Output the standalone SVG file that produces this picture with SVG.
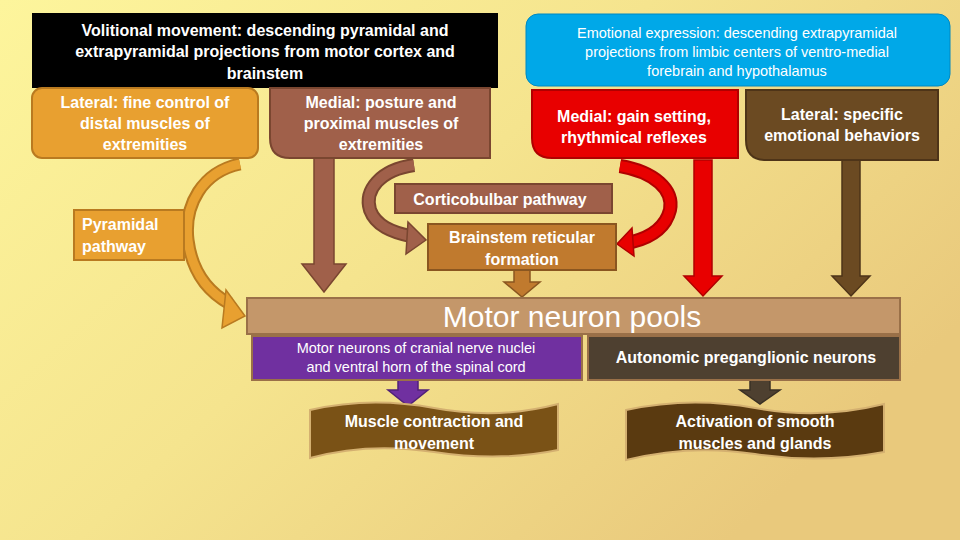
<svg xmlns="http://www.w3.org/2000/svg" width="960" height="540" viewBox="0 0 960 540">
<defs>
<linearGradient id="bg" x1="0" y1="0" x2="1" y2="0.6">
<stop offset="0" stop-color="#fdf59c"/><stop offset="0.5" stop-color="#f5e48e"/><stop offset="1" stop-color="#e9c97c"/>
</linearGradient>
</defs>
<style>
text{font-family:"Liberation Sans",Arial,sans-serif;fill:#fff;font-weight:bold;text-anchor:middle}
text.n{font-weight:normal}
</style>
<rect width="960" height="540" fill="url(#bg)"/>
<g id="connectors">
<polygon points="314,158 334,158 334,264 346,264 324,292 302,264 314,264" fill="#a0604a" stroke="#7a4630" stroke-width="1.5"/>
<polygon points="514,270 530,270 530,282 540,282 522,297 504,282 514,282" fill="#c07a2e" stroke="#8a5620" stroke-width="1.5"/>
<polygon points="694,160 712,160 712,276 722,276 703,296 684,276 694,276" fill="#e80000" stroke="#b00000" stroke-width="1.5"/>
<polygon points="842,160 860,160 860,276 870,276 851,296 832,276 842,276" fill="#6b4a22" stroke="#4e3418" stroke-width="1.5"/>
<polygon points="398,380 418,380 418,390 428,390 408,406 388,390 398,390" fill="#7030a0" stroke="#502078" stroke-width="1.5"/>
<polygon points="750,380 770,380 770,390 780,390 760,404 740,390 750,390" fill="#4e4030" stroke="#3a3024" stroke-width="1.5"/>
<path d="M240,164 C202,172 184,205 188,240 C192,272 208,292 230,304" fill="none" stroke="#b97a20" stroke-width="13"/>
<path d="M240,164 C202,172 184,205 188,240 C192,272 208,292 230,304" fill="none" stroke="#e8a030" stroke-width="9"/>
<polygon points="226,290 245,316 222,328" fill="#e8a030" stroke="#b97a20" stroke-width="1.5"/>
<path d="M414,165 C380,170 364,190 370,210 C376,226 392,232 410,236" fill="none" stroke="#7a4630" stroke-width="14"/>
<path d="M414,165 C380,170 364,190 370,210 C376,226 392,232 410,236" fill="none" stroke="#a0604a" stroke-width="10"/>
<polygon points="408,222 426,240 406,254" fill="#a0604a" stroke="#7a4630" stroke-width="1.5"/>
<path d="M620,166 C655,172 674,190 670,210 C665,230 648,238 632,242" fill="none" stroke="#b00000" stroke-width="14"/>
<path d="M620,166 C655,172 674,190 670,210 C665,230 648,238 632,242" fill="none" stroke="#e80000" stroke-width="10"/>
<polygon points="632,228 617,244 634,256" fill="#e80000" stroke="#b00000" stroke-width="1.5"/>
</g>
<g id="volitional">
<rect x="32" y="13" width="466" height="75" fill="#000"/>
<text font-size="16"><tspan x="265" y="36">Volitional movement: descending pyramidal and</tspan><tspan x="265" y="57">extrapyramidal projections from motor cortex and</tspan><tspan x="265" y="79">brainstem</tspan></text>
</g>
<g id="emotional">
<rect x="526" y="14" width="424" height="72" rx="12" fill="#00a8e8" stroke="#0088c0"/>
<text class="n" font-size="14.5"><tspan x="737" y="38">Emotional expression: descending extrapyramidal</tspan><tspan x="737" y="57">projections from limbic centers of ventro-medial</tspan><tspan x="737" y="76">forebrain and hypothalamus</tspan></text>
</g>
<g id="lateral-fine">
<rect x="32" y="88" width="226" height="70" rx="10" fill="#e8a030" stroke="#b97a20" stroke-width="2"/>
<text font-size="16"><tspan x="145" y="108">Lateral: fine control of</tspan><tspan x="145" y="129">distal muscles of</tspan><tspan x="145" y="150">extremities</tspan></text>
</g>
<g id="medial-posture">
<path d="M270,88 H490 V158 H290 Q270,158 270,138 Z" fill="#a0604a" stroke="#7a4630" stroke-width="2"/>
<text font-size="16"><tspan x="381" y="108">Medial: posture and</tspan><tspan x="381" y="129">proximal muscles of</tspan><tspan x="381" y="150">extremities</tspan></text>
</g>
<g id="medial-gain">
<path d="M532,90 H738 V158 H552 Q532,158 532,138 Z" fill="#e80000" stroke="#b00000" stroke-width="2"/>
<text font-size="16"><tspan x="634" y="122">Medial: gain setting,</tspan><tspan x="634" y="143">rhythmical reflexes</tspan></text>
</g>
<g id="lateral-emotional">
<path d="M746,90 H938 V160 H766 Q746,160 746,140 Z" fill="#6b4a22" stroke="#4e3418" stroke-width="2"/>
<text font-size="16"><tspan x="842" y="120">Lateral: specific</tspan><tspan x="842" y="141">emotional behaviors</tspan></text>
</g>
<g id="pyramidal">
<rect x="74" y="210" width="110" height="50" fill="#e8a030" stroke="#b97a20" stroke-width="2"/>
<text font-size="16" style="text-anchor:start"><tspan x="82" y="230">Pyramidal</tspan><tspan x="82" y="252">pathway</tspan></text>
</g>
<g id="corticobulbar">
<rect x="395" y="184" width="217" height="29" fill="#a0604a" stroke="#7a4630" stroke-width="2"/>
<text x="500" y="205" font-size="16">Corticobulbar pathway</text>
</g>
<g id="brainstem">
<rect x="428" y="224" width="188" height="46" fill="#c07a2e" stroke="#8a5620" stroke-width="2"/>
<text font-size="16"><tspan x="522" y="243">Brainstem reticular</tspan><tspan x="522" y="265">formation</tspan></text>
</g>
<g id="pools">
<rect x="247" y="298" width="653" height="36" fill="#c4976a" stroke="#9a7048" stroke-width="2"/>
<text class="n" x="572" y="327" font-size="30">Motor neuron pools</text>
</g>
<g id="motor-neurons">
<rect x="252" y="336" width="330" height="44" fill="#7030a0" stroke="#9a7048" stroke-width="2"/>
<text class="n" font-size="14.5"><tspan x="416" y="353">Motor neurons of cranial nerve nuclei</tspan><tspan x="416" y="372">and ventral horn of the spinal cord</tspan></text>
</g>
<g id="autonomic">
<rect x="588" y="336" width="312" height="44" fill="#4e4030" stroke="#9a7048" stroke-width="2"/>
<text x="746" y="363" font-size="16">Autonomic preganglionic neurons</text>
</g>
<g id="muscle">
<path d="M310,410 Q370,396 434,408 T558,404 V450 Q500,462 434,452 T310,458 Z" fill="#7a5216" stroke="#d4b070" stroke-width="2"/>
<text font-size="16"><tspan x="434" y="427">Muscle contraction and</tspan><tspan x="434" y="449">movement</tspan></text>
</g>
<g id="activation">
<path d="M626,410 Q690,396 755,408 T884,404 V452 Q820,464 755,454 T626,460 Z" fill="#5a3a10" stroke="#d4b070" stroke-width="2"/>
<text font-size="16"><tspan x="755" y="427">Activation of smooth</tspan><tspan x="755" y="449">muscles and glands</tspan></text>
</g>
</svg>
